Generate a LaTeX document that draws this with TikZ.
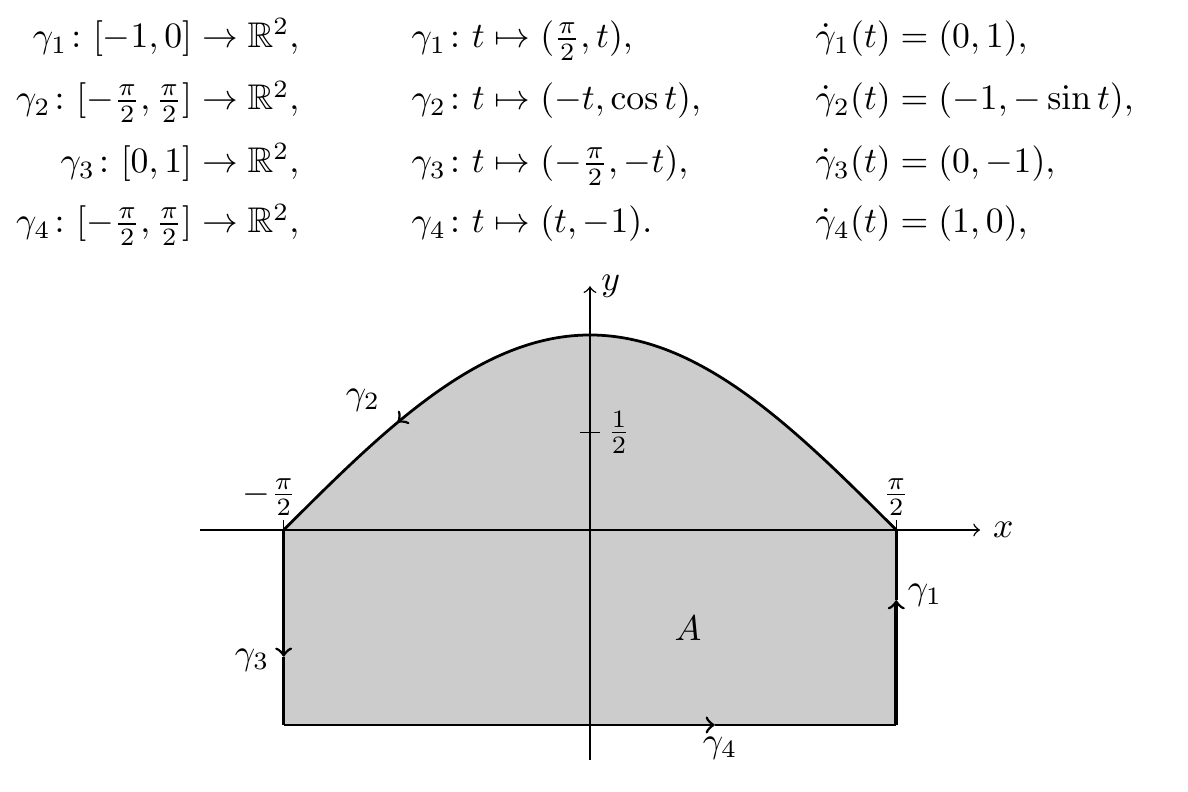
\documentclass[tikz,border=0pt]{standalone}
\usepackage{amsmath,amssymb}
\usetikzlibrary{decorations.markings}
\tikzset{
  txt/.style={scale=0.972,transform shape},
  eqL/.style={txt,anchor=base east,inner sep=0pt},
  eqR/.style={txt,anchor=base west,inner sep=0pt},
  bd/.style={line width=0.75pt},
  axis/.style={line width=0.4pt,->},
  lbl/.style={txt,inner sep=0pt}
}
\begin{document}
\begin{tikzpicture}[x=53.14pt,y=53.14pt]
\useasboundingbox (-3.0256,-1.3436) rectangle (3.0667,2.7179);
% equations
\node[eqL] (a1) at (-1.487,2.472) {$\gamma_1\colon[-1,0]\to\mathbb{R}^2,$};
\node[eqL] (a2) at (-1.487,2.154) {$\gamma_2\colon[-\frac{\pi}{2},\frac{\pi}{2}]\to\mathbb{R}^2,$};
\node[eqL] (a3) at (-1.487,1.831) {$\gamma_3\colon[0,1]\to\mathbb{R}^2,$};
\node[eqL] (a4) at (-1.487,1.523) {$\gamma_4\colon[-\frac{\pi}{2},\frac{\pi}{2}]\to\mathbb{R}^2,$};
\node[eqR] (b1) at (-0.918,2.472) {$\gamma_1\colon t\mapsto(\frac{\pi}{2},t),$};
\node[eqR] (b2) at (-0.918,2.154) {$\gamma_2\colon t\mapsto(-t,\cos t),$};
\node[eqR] (b3) at (-0.918,1.831) {$\gamma_3\colon t\mapsto(-\frac{\pi}{2},-t),$};
\node[eqR] (b4) at (-0.918,1.523) {$\gamma_4\colon t\mapsto(t,-1).$};
\node[eqR] (c1) at (1.154,2.472) {$\dot{\gamma}_1(t)=(0,1),$};
\node[eqR] (c2) at (1.154,2.154) {$\dot{\gamma}_2(t)=(-1,-\sin t),$};
\node[eqR] (c3) at (1.154,1.831) {$\dot{\gamma}_3(t)=(0,-1),$};
\node[eqR] (c4) at (1.154,1.523) {$\dot{\gamma}_4(t)=(1,0),$};
% region
\fill[black!20] plot[domain=-pi/2:pi/2,samples=120] (\x,{cos(\x r)}) -- ({pi/2},-1) -- ({-pi/2},-1) -- cycle;
% axes
\draw[axis] (-2,0) -- (2,0) node[right,lbl,xshift=3.5pt] (xl) {$x$};
\draw[axis] (0,-1.18) -- (0,1.25) node[right,lbl,xshift=3pt] (yl) {$y$};
% ticks
\draw[line width=0.4pt] (-0.05,0.5) -- (0.05,0.5) node[right,lbl,xshift=2pt] (h) {$\frac{1}{2}$};
\draw[line width=0.4pt] ({pi/2},0) -- ({pi/2},0.05) node[above,txt,inner sep=1pt] (p2) {$\frac{\pi}{2}$};
\draw[line width=0.4pt] ({-pi/2},0) -- ({-pi/2},0.05) node[above,txt,inner sep=1pt] (m2) {\llap{$-$}$\frac{\pi}{2}$};
% boundary
\draw[bd,decoration={markings,mark=at position 0.79 with {\arrow{to}}},postaction={decorate}]
  plot[domain=pi/2:-pi/2,samples=120] (\x,{cos(\x r)});
\draw[bd] ({pi/2},0) -- ({pi/2},-0.36);
\draw[line width=1.15pt] ({pi/2},-1) -- ({pi/2},-0.38);
\draw[bd,->] ({pi/2},-1) -- ({pi/2},-0.36);
\draw[bd,->] ({-pi/2},0) -- ({-pi/2},-0.65);
\draw[bd] ({-pi/2},-0.65) -- ({-pi/2},-1);
\draw[bd,->] ({-pi/2},-1) -- (0.64,-1);
\draw[bd] (0.64,-1) -- ({pi/2},-1);
% labels
\node[lbl] (g2) at (-1.164,0.667) {$\gamma_2$};
\node[lbl] (g1) at (1.718,-0.333) {$\gamma_1$};
\node[lbl] (g3) at (-1.733,-0.667) {$\gamma_3$};
\node[lbl] (g4) at (0.667,-1.118) {$\gamma_4$};
\node[lbl] (A) at (0.503,-0.503) {$A$};
\end{tikzpicture}
\end{document}
